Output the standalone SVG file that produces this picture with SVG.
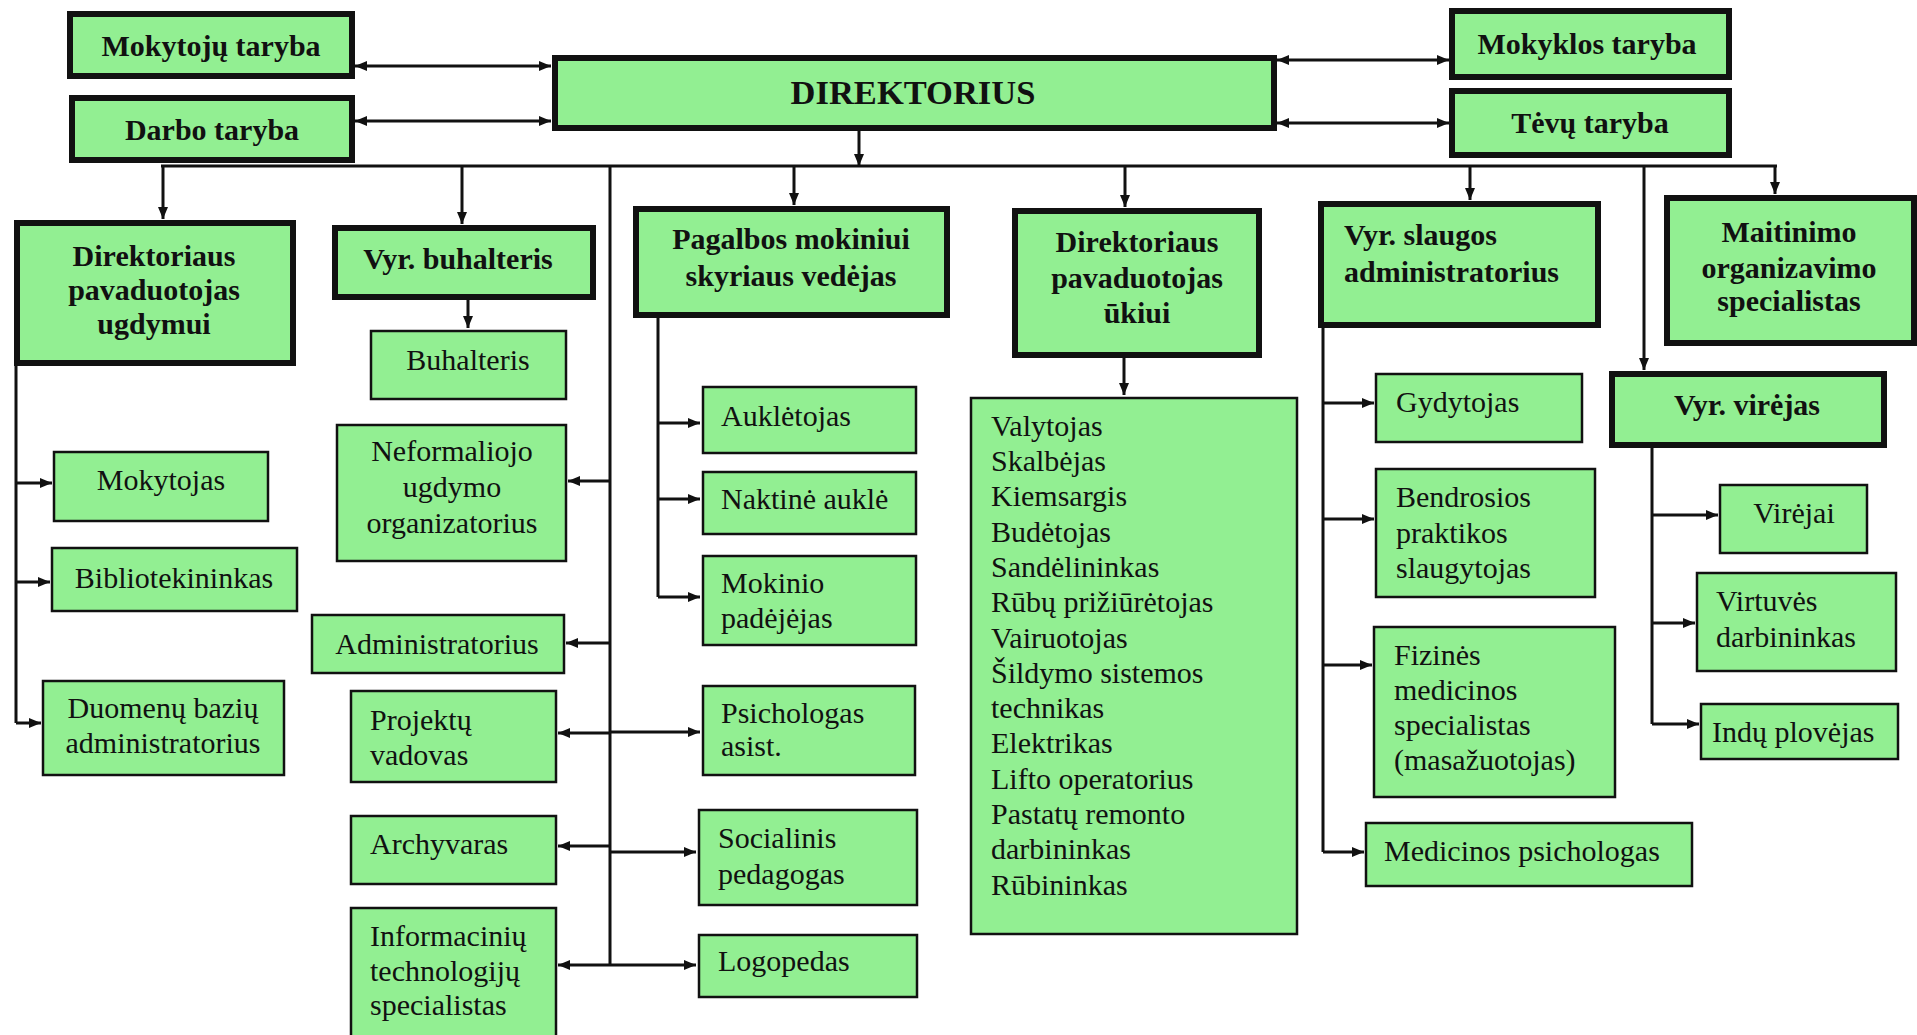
<svg xmlns="http://www.w3.org/2000/svg" width="1917" height="1035" viewBox="0 0 1917 1035">
<defs>
<style>
.hd rect{fill:#92ef92;stroke:#111;stroke-width:6}
.bd rect{fill:#92ef92;stroke:#111;stroke-width:2.5}
.hd text{font-family:"Liberation Serif","Times New Roman",serif;font-weight:bold;font-size:30px;fill:#111;text-anchor:middle}
.bd text{font-family:"Liberation Serif","Times New Roman",serif;font-size:30px;fill:#111}
.c{text-anchor:middle}
.cn line,.cn path{stroke:#111;stroke-width:3;fill:none}
.ar{marker-end:url(#ah)}
.bi{marker-end:url(#ah);marker-start:url(#ah)}
</style>
<marker id="ah" markerUnits="userSpaceOnUse" markerWidth="14" markerHeight="12" refX="12" refY="6" orient="auto-start-reverse">
<path d="M0,1 L12,6 L0,11 Z" fill="#111"/>
</marker>
</defs>
<rect width="1917" height="1035" fill="#fff"/>

<g id="connectors" class="cn">
<line class="bi" x1="355" y1="66" x2="551" y2="66"/>
<line class="bi" x1="355" y1="121" x2="551" y2="121"/>
<line class="bi" x1="1277" y1="60" x2="1449" y2="60"/>
<line class="bi" x1="1277" y1="123" x2="1449" y2="123"/>
<line class="ar" x1="859" y1="131" x2="859" y2="166"/>
<line x1="161" y1="166" x2="1777" y2="166"/>
<line class="ar" x1="163" y1="166" x2="163" y2="219"/>
<line class="ar" x1="462" y1="166" x2="462" y2="224"/>
<line x1="610" y1="166" x2="610" y2="966"/>
<line class="ar" x1="794" y1="166" x2="794" y2="205"/>
<line class="ar" x1="1125" y1="166" x2="1125" y2="207"/>
<line class="ar" x1="1470" y1="166" x2="1470" y2="200"/>
<line class="ar" x1="1644" y1="166" x2="1644" y2="370"/>
<line class="ar" x1="1775" y1="166" x2="1775" y2="194"/>
<line class="ar" x1="468" y1="300" x2="468" y2="328"/>
<line class="ar" x1="610" y1="481" x2="568" y2="481"/>
<line class="ar" x1="610" y1="643" x2="566" y2="643"/>
<line class="ar" x1="610" y1="733" x2="558" y2="733"/>
<line class="ar" x1="610" y1="846" x2="558" y2="846"/>
<line class="ar" x1="610" y1="965" x2="558" y2="965"/>
<line class="ar" x1="610" y1="732" x2="700" y2="732"/>
<line class="ar" x1="610" y1="852" x2="696" y2="852"/>
<line class="ar" x1="610" y1="965" x2="696" y2="965"/>
<line x1="16" y1="366" x2="16" y2="723"/>
<line class="ar" x1="16" y1="483" x2="52" y2="483"/>
<line class="ar" x1="16" y1="582" x2="50" y2="582"/>
<line class="ar" x1="16" y1="723" x2="41" y2="723"/>
<line x1="658" y1="315" x2="658" y2="597"/>
<line class="ar" x1="658" y1="423" x2="700" y2="423"/>
<line class="ar" x1="658" y1="499" x2="700" y2="499"/>
<line class="ar" x1="658" y1="597" x2="700" y2="597"/>
<line class="ar" x1="1124" y1="358" x2="1124" y2="395"/>
<line x1="1323" y1="328" x2="1323" y2="852"/>
<line class="ar" x1="1323" y1="403" x2="1374" y2="403"/>
<line class="ar" x1="1323" y1="519" x2="1374" y2="519"/>
<line class="ar" x1="1323" y1="665" x2="1372" y2="665"/>
<line class="ar" x1="1323" y1="852" x2="1364" y2="852"/>
<line x1="1652" y1="448" x2="1652" y2="724"/>
<line class="ar" x1="1652" y1="515" x2="1718" y2="515"/>
<line class="ar" x1="1652" y1="623" x2="1695" y2="623"/>
<line class="ar" x1="1652" y1="724" x2="1699" y2="724"/>
</g>

<g id="mokytoju-taryba" class="hd"><rect x="70" y="14" width="282" height="62"/><text x="211" y="56">Mokytojų taryba</text></g>
<g id="darbo-taryba" class="hd"><rect x="72" y="98" width="280" height="62"/><text x="212" y="140">Darbo taryba</text></g>
<g id="direktorius" class="hd"><rect x="555" y="58" width="719" height="70"/><text x="913" y="104" style="font-size:34.5px">DIREKTORIUS</text></g>
<g id="mokyklos-taryba" class="hd"><rect x="1452" y="11" width="277" height="66"/><text x="1587" y="54">Mokyklos taryba</text></g>
<g id="tevu-taryba" class="hd"><rect x="1452" y="91" width="277" height="64"/><text x="1590" y="133">Tėvų taryba</text></g>
<g id="dir-ugdymui" class="hd"><rect x="17" y="223" width="276" height="140"/><text x="154" y="266">Direktoriaus</text><text x="154" y="300">pavaduotojas</text><text x="154" y="334">ugdymui</text></g>
<g id="vyr-buhalteris" class="hd"><rect x="335" y="228" width="258" height="69"/><text x="458" y="269">Vyr. buhalteris</text></g>
<g id="pagalbos" class="hd"><rect x="636" y="209" width="311" height="106"/><text x="791" y="249">Pagalbos mokiniui</text><text x="791" y="286">skyriaus vedėjas</text></g>
<g id="dir-ukiui" class="hd"><rect x="1015" y="211" width="244" height="144"/><text x="1137" y="252">Direktoriaus</text><text x="1137" y="288">pavaduotojas</text><text x="1137" y="323">ūkiui</text></g>
<g id="vyr-slaugos" class="hd"><rect x="1321" y="204" width="277" height="121"/><text x="1344" y="245" style="text-anchor:start">Vyr. slaugos</text><text x="1344" y="282" style="text-anchor:start">administratorius</text></g>
<g id="maitinimo" class="hd"><rect x="1667" y="198" width="247" height="145"/><text x="1789" y="242">Maitinimo</text><text x="1789" y="278">organizavimo</text><text x="1789" y="311">specialistas</text></g>
<g id="vyr-virejas" class="hd"><rect x="1612" y="374" width="272" height="71"/><text x="1747" y="415">Vyr. virėjas</text></g>

<g id="buhalteris" class="bd"><rect x="371" y="331" width="195" height="68"/><text class="c" x="468" y="370">Buhalteris</text></g>
<g id="mokytojas" class="bd"><rect x="54" y="452" width="214" height="69"/><text class="c" x="161" y="490">Mokytojas</text></g>
<g id="bibliotekininkas" class="bd"><rect x="52" y="548" width="245" height="63"/><text class="c" x="174" y="588">Bibliotekininkas</text></g>
<g id="duomenu" class="bd"><rect x="43" y="681" width="241" height="94"/><text class="c" x="163" y="718">Duomenų bazių</text><text class="c" x="163" y="753">administratorius</text></g>
<g id="neformaliojo" class="bd"><rect x="337" y="425" width="229" height="136"/><text class="c" x="452" y="461">Neformaliojo</text><text class="c" x="452" y="497">ugdymo</text><text class="c" x="452" y="533">organizatorius</text></g>
<g id="administratorius" class="bd"><rect x="312" y="615" width="252" height="58"/><text class="c" x="437" y="654">Administratorius</text></g>
<g id="projektu" class="bd"><rect x="351" y="691" width="205" height="91"/><text x="370" y="730">Projektų</text><text x="370" y="765">vadovas</text></g>
<g id="archyvaras" class="bd"><rect x="351" y="816" width="205" height="68"/><text x="370" y="854">Archyvaras</text></g>
<g id="informaciniu" class="bd"><rect x="351" y="908" width="205" height="132"/><text x="370" y="946">Informacinių</text><text x="370" y="981">technologijų</text><text x="370" y="1015">specialistas</text></g>
<g id="aukletojas" class="bd"><rect x="703" y="387" width="213" height="66"/><text x="721" y="426">Auklėtojas</text></g>
<g id="naktine" class="bd"><rect x="703" y="472" width="213" height="62"/><text x="721" y="509">Naktinė auklė</text></g>
<g id="mokinio" class="bd"><rect x="703" y="556" width="213" height="89"/><text x="721" y="593">Mokinio</text><text x="721" y="628">padėjėjas</text></g>
<g id="psichologas" class="bd"><rect x="703" y="686" width="212" height="89"/><text x="721" y="723">Psichologas</text><text x="721" y="756">asist.</text></g>
<g id="socialinis" class="bd"><rect x="699" y="810" width="218" height="95"/><text x="718" y="848">Socialinis</text><text x="718" y="884">pedagogas</text></g>
<g id="logopedas" class="bd"><rect x="699" y="935" width="218" height="62"/><text x="718" y="971">Logopedas</text></g>
<g id="ukio-darbuotojai" class="bd"><rect x="971" y="398" width="326" height="536"/>
<text x="991" y="436">Valytojas</text>
<text x="991" y="471">Skalbėjas</text>
<text x="991" y="506">Kiemsargis</text>
<text x="991" y="542">Budėtojas</text>
<text x="991" y="577">Sandėlininkas</text>
<text x="991" y="612">Rūbų prižiūrėtojas</text>
<text x="991" y="648">Vairuotojas</text>
<text x="991" y="683">Šildymo sistemos</text>
<text x="991" y="718">technikas</text>
<text x="991" y="753">Elektrikas</text>
<text x="991" y="789">Lifto operatorius</text>
<text x="991" y="824">Pastatų remonto</text>
<text x="991" y="859">darbininkas</text>
<text x="991" y="895">Rūbininkas</text>
</g>
<g id="gydytojas" class="bd"><rect x="1376" y="374" width="206" height="68"/><text x="1396" y="412">Gydytojas</text></g>
<g id="bendrosios" class="bd"><rect x="1376" y="469" width="219" height="128"/><text x="1396" y="507">Bendrosios</text><text x="1396" y="543">praktikos</text><text x="1396" y="578">slaugytojas</text></g>
<g id="fizines" class="bd"><rect x="1374" y="627" width="241" height="170"/><text x="1394" y="665">Fizinės</text><text x="1394" y="700">medicinos</text><text x="1394" y="735">specialistas</text><text x="1394" y="770">(masažuotojas)</text></g>
<g id="medicinos-psichologas" class="bd"><rect x="1366" y="823" width="326" height="63"/><text x="1384" y="861">Medicinos psichologas</text></g>
<g id="virejai" class="bd"><rect x="1720" y="485" width="147" height="68"/><text class="c" x="1794" y="523">Virėjai</text></g>
<g id="virtuves" class="bd"><rect x="1697" y="573" width="199" height="98"/><text x="1716" y="611">Virtuvės</text><text x="1716" y="647">darbininkas</text></g>
<g id="indu" class="bd"><rect x="1701" y="704" width="197" height="55"/><text x="1712" y="742">Indų plovėjas</text></g>
</svg>
